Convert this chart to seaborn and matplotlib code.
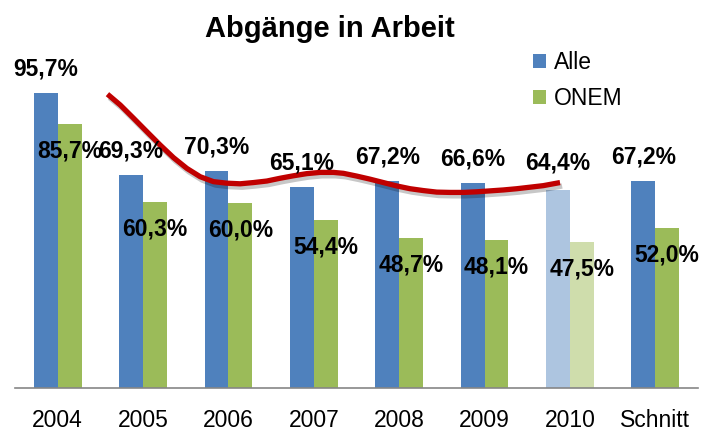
import matplotlib
matplotlib.use("Agg")
import matplotlib.pyplot as plt
import matplotlib.patheffects as pe
from matplotlib.patches import Patch
import numpy as np
import pandas as pd
import seaborn as sns

# ---- data ----
categories = ["2004", "2005", "2006", "2007", "2008", "2009", "2010", "Schnitt"]
alle = [95.7, 69.3, 70.3, 65.1, 67.2, 66.6, 64.4, 67.2]
onem = [85.7, 60.3, 60.0, 54.4, 48.7, 48.1, 47.5, 52.0]
series = ["Alle", "ONEM"]
title = "Abgänge in Arbeit"
highlight_category = "2010"

# hand-drawn red trend curve (category position, percent)
curve_x = [0.583, 0.732, 0.888, 1.045, 1.200, 1.356, 1.513, 1.669, 1.824, 1.981,
           2.137, 2.293, 2.450, 2.605, 2.761, 2.918, 3.074, 3.230, 3.347, 3.503,
           3.659, 3.815, 3.972, 4.128, 4.283, 4.440, 4.596, 4.752, 4.909, 5.064,
           5.220, 5.377, 5.533, 5.688, 5.884]
curve_y = [95.4, 91.9, 87.6, 83.2, 78.9, 74.8, 71.3, 68.6, 67.0, 66.5,
           66.3, 66.7, 67.2, 68.1, 68.9, 69.6, 70.0, 70.0, 69.7, 68.8,
           67.8, 66.7, 65.6, 64.7, 64.1, 63.6, 63.5, 63.5, 63.7, 64.0,
           64.3, 64.7, 65.2, 65.7, 66.7]

# ---- styles ----
colors = {"Alle": "#4f81bd", "ONEM": "#9bbb59"}
light_colors = {"Alle": "#adc5e0", "ONEM": "#cfddac"}
FONT = "Liberation Sans"

sns.set_theme(style="white")
plt.rcParams["font.family"] = [FONT, "DejaVu Sans"]
plt.rcParams["text.color"] = "black"
plt.rcParams["xtick.color"] = "black"

df = pd.DataFrame({
    "Jahr": categories * 2,
    "Serie": ["Alle"] * len(categories) + ["ONEM"] * len(categories),
    "Wert": alle + onem,
})

fig = plt.figure(figsize=(7.01, 4.36), dpi=100)
ax = fig.add_axes([15 / 701, 48 / 436, 683 / 701, 308 / 436])

sns.barplot(data=df, x="Jahr", y="Wert", hue="Serie", order=categories,
            hue_order=series, palette=colors, width=0.56, gap=0,
            saturation=1, legend=False, ax=ax, errorbar=None,
            edgecolor="none")

ax.set_ylim(0, 100)
ax.set_xlim(-0.5, len(categories) - 0.5)

# light colours for highlight category, labels
hi = categories.index(highlight_category)
n = len(categories)
for s_i, s in enumerate(series):
    vals = alle if s == "Alle" else onem
    for i in range(n):
        p = ax.patches[s_i * n + i]
        xc = p.get_x() + p.get_width() / 2
        if i == hi:
            p.set_facecolor(light_colors[s])
        if s == "Alle":
            off = 24 if i != hi else 27
        else:
            off = -27
        ax.annotate(f"{vals[i]:.1f}%".replace(".", ","), xy=(xc, vals[i]),
                    xytext=(0, off), textcoords="offset pixels",
                    ha="center", va="center", fontsize=16.5,
                    fontweight="bold", color="black", zorder=5)

# red curve with shadow
ax.plot(curve_x, curve_y, color="#c00000", lw=3.8, solid_capstyle="butt",
        solid_joinstyle="round", zorder=4,
        path_effects=[pe.SimpleLineShadow(offset=(1.5, -2.5), shadow_color="black", alpha=0.22),
                      pe.Normal()])

# axes styling
for sp in ["top", "left", "right"]:
    ax.spines[sp].set_visible(False)
ax.spines["bottom"].set_color("#868686")
ax.spines["bottom"].set_linewidth(1.2)
ax.set_yticks([])
ax.set_xlabel("")
ax.set_ylabel("")
ax.set_xticks(range(n))
ax.set_xticklabels(categories, fontsize=16.5, color="black")
ax.set_xticks(np.arange(-0.5, n, 1.0), minor=True)
ax.tick_params(axis="x", which="major", length=0, pad=15)
ax.tick_params(axis="x", which="minor", length=8, width=1.2, color="#868686", direction="out")

fig.text(330 / 701, 1 - 37 / 436, title, ha="center", va="baseline",
         fontsize=21, fontweight="bold", color="black")

handles = [Patch(facecolor=colors[s], edgecolor="none", label=s) for s in series]
fig.legend(handles=handles, loc="upper left", bbox_to_anchor=(524 / 701, 1 - 42 / 436),
           frameon=False, fontsize=16.5, handlelength=0.55, handleheight=0.55,
           handletextpad=0.35, labelspacing=0.55, borderaxespad=0, labelcolor="black")

fig.savefig("out.png", dpi=100)
